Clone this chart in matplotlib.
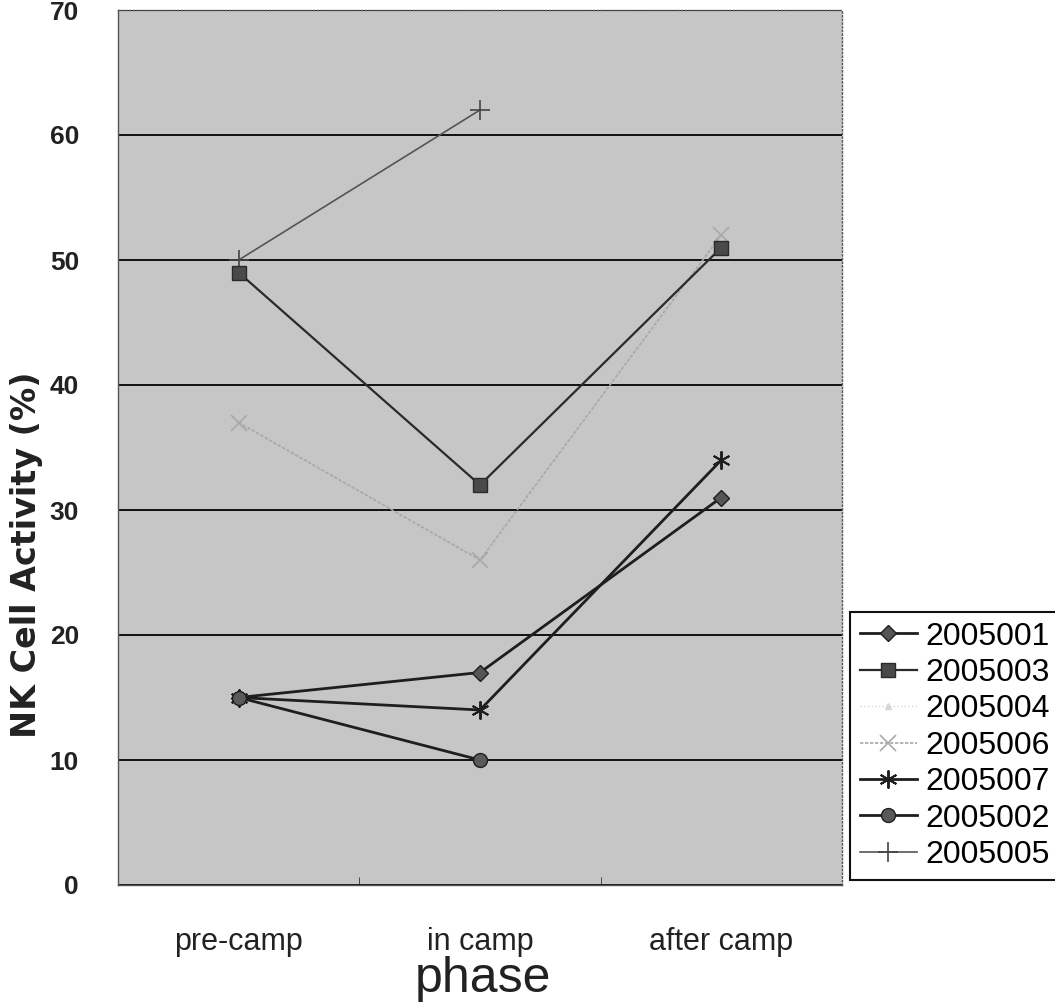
import numpy as np
import matplotlib
matplotlib.use("Agg")
import matplotlib.pyplot as plt

# phases on the x axis
phases = ["pre-camp", "in camp", "after camp"]

# NK cell activity (%) per subject
s2005001 = [15, 17, 31]
s2005003 = [49, 32, 51]
s2005004 = [np.nan, np.nan, np.nan]
s2005006 = [37, 26, 52]
s2005007 = [15, 14, 34]
s2005002 = [15, 10, np.nan]
s2005005 = [50, 62, np.nan]

names = ["2005001", "2005003", "2005004", "2005006", "2005007", "2005002", "2005005"]

fig = plt.figure(figsize=(10.55, 10.06), dpi=100)
ax = fig.add_axes([118/1055, 1-885/1006, (842-118)/1055, (885-10)/1006])
ax.set_facecolor("#c6c6c6")

x = np.arange(len(phases))

styles = [
    dict(color="#1e1e1e", lw=2.0, marker="D", ms=8, mfc="#555555", mec="#1e1e1e"),
    dict(color="#2a2a2a", lw=1.6, marker="s", ms=10, mfc="#4a4a4a", mec="#2a2a2a"),
    dict(color="#d6d6d6", lw=1.0, ls=":", marker="^", ms=5, mfc="#d6d6d6", mec="#d6d6d6"),
    dict(color="#a8a8a8", lw=1.2, ls=(0, (2, 1)), marker="x", ms=11, mew=1.2, mec="#a8a8a8"),
    dict(color="#1e1e1e", lw=2.0, marker=(6, 2, 0), ms=13, mew=1.4, mec="#1e1e1e"),
    dict(color="#1e1e1e", lw=2.0, marker="o", ms=10, mfc="#5a5a5a", mec="#1e1e1e"),
    dict(color="#555555", lw=1.2, marker="+", ms=14, mew=1.2, mec="#444444"),
]
series = [s2005001, s2005003, s2005004, s2005006, s2005007, s2005002, s2005005]

# faint ones first so the dark lines sit on top
order = [2, 3, 6, 1, 0, 4, 5]
handles = [None]*len(series)
for i in order:
    h, = ax.plot(x, series[i], label=names[i], zorder=3, **styles[i])
    handles[i] = h

ax.set_xlim(-0.5, 2.5)
ax.set_ylim(0, 70)
ax.set_yticks(np.arange(0, 71, 10))
ax.set_xticks(x)
ax.set_xticklabels(phases, family="Liberation Sans", fontsize=22, color="#222222")
for t in ax.get_yticklabels():
    t.set_family("Liberation Sans")
    t.set_fontweight("bold")
    t.set_fontsize(19)
    t.set_color("#222222")
ax.tick_params(axis="y", length=0, pad=28)
ax.tick_params(axis="x", length=0, pad=30)
ax.set_xticks([0.5, 1.5], minor=True)
ax.tick_params(axis="x", which="minor", direction="in", length=6, color="#333333")

ax.yaxis.grid(True, color="#111111", lw=1.4)
ax.set_axisbelow(True)
for sp in ax.spines.values():
    sp.set_color("#555555")
    sp.set_linewidth(1.0)
ax.spines["top"].set_linestyle(":")
ax.spines["right"].set_linestyle(":")

fig.text(27/1055, 1-555/1006, "NK Cell Activity (%)", rotation=90, ha="center", va="center",
         fontsize=24, fontweight="bold", family="DejaVu Sans", color="#222222")
fig.text(483/1055, 1-992/1006, "phase", ha="center", va="baseline",
         fontsize=36, family="Liberation Sans", color="#222222")

leg = fig.legend(handles=handles, loc="upper left", bbox_to_anchor=(850/1055, 1-612/1006),
                 frameon=True, fancybox=False, edgecolor="#111111", facecolor="white",
                 framealpha=1, prop={"family": "Liberation Sans", "size": 23},
                 handlelength=1.8, handletextpad=0.25, labelspacing=0.2,
                 borderpad=0.3, borderaxespad=0)
leg.get_frame().set_linewidth(1.5)

fig.savefig("out.png", dpi=100, facecolor="white")
